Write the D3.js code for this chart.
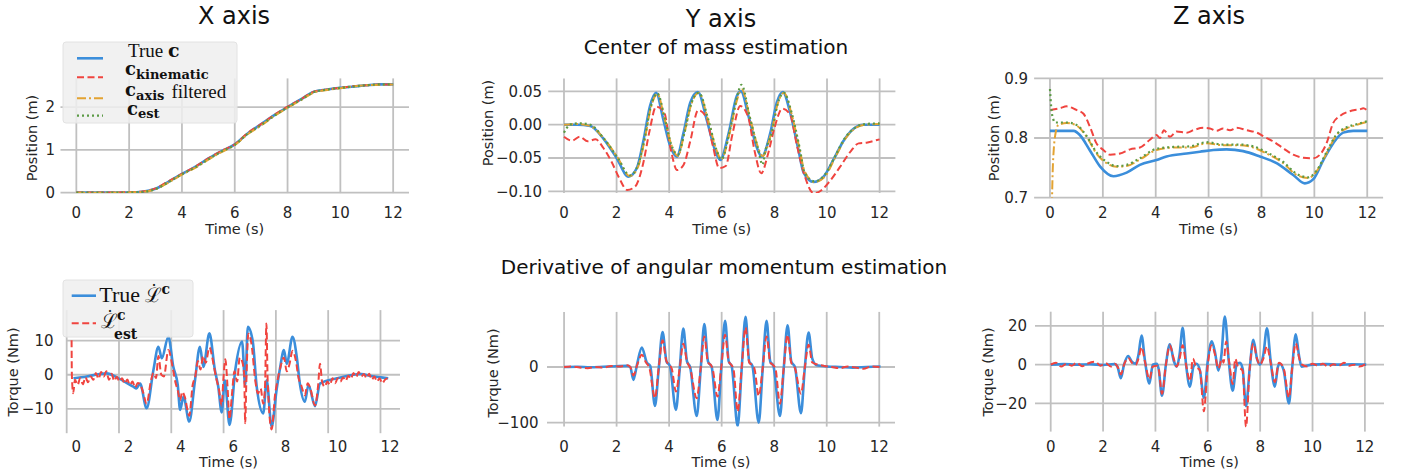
<!DOCTYPE html>
<html lang="en">
<head>
<meta charset="UTF-8">
<title>Center of mass and angular momentum estimation</title>
<script src="https://d3js.org/d3.v7.min.js"></script>
<style>
    body { margin: 0; background: #fff; }
    svg { display: block; font-family: 'DejaVu Sans', sans-serif; }
    .grid line { stroke: #c0c0c0; stroke-width: 1.8; }
    .tick-label { font-size: 15px; fill: #262626; }
    .axis-label { font-size: 14.5px; fill: #262626; }
    .title { font-size: 24px; fill: #111; }
    .subtitle { font-size: 20px; fill: #111; }
    .serif { font-family: 'Liberation Serif', serif; fill: #111; }
    .bold { font-family: 'DejaVu Serif', serif; font-weight: bold; }
    .script { font-family: 'DejaVu Serif', serif; }
</style>
</head>
<body>
<svg id="chart" width="1407" height="476"></svg>
<script>
// ---- values: [time (s), value] ----
const timeTicks = [0, 2, 4, 6, 8, 10, 12];

// Center of mass, X axis (m)
const comXTrue = [[0,0],[1,0],[2,0.005],[2.5,0.02],[3,0.09],[3.5,0.26],[4,0.44],[4.5,0.6],[5,0.8],[5.5,0.97],[6,1.13],[6.5,1.39],[7,1.6],[7.5,1.81],[8,2.0],[8.5,2.18],[9,2.36],[9.5,2.41],[10,2.45],[10.5,2.48],[11,2.51],[11.5,2.53],[12,2.53]];
const comXKin = [[0,0.005],[1,0.005],[2,0.01],[2.5,0.025],[3,0.1],[3.5,0.27],[4,0.44],[4.5,0.61],[5,0.8],[5.5,0.98],[6,1.13],[6.5,1.4],[7,1.6],[7.5,1.82],[8,2.01],[8.5,2.18],[9,2.36],[9.5,2.41],[10,2.45],[10.5,2.49],[11,2.51],[11.5,2.53],[12,2.53]];
const comXFilt = [[0,0],[1,0],[2,0.005],[2.5,0.015],[3,0.08],[3.5,0.24],[4,0.42],[4.5,0.58],[5,0.77],[5.5,0.95],[6,1.11],[6.5,1.37],[7,1.57],[7.5,1.79],[8,1.98],[8.5,2.16],[9,2.34],[9.5,2.4],[10,2.44],[10.5,2.48],[11,2.51],[11.5,2.52],[12,2.53]];
const comXEst = [[0,0],[1,0],[2,0.005],[2.5,0.018],[3,0.085],[3.5,0.25],[4,0.43],[4.5,0.59],[5,0.78],[5.5,0.96],[6,1.12],[6.5,1.38],[7,1.58],[7.5,1.8],[8,1.99],[8.5,2.17],[9,2.35],[9.5,2.41],[10,2.45],[10.5,2.48],[11,2.51],[11.5,2.53],[12,2.53]];

// Center of mass, Y axis (m)
const comYTrue = [[0,0],[0.5,0],[1.0,-0.002],[1.5,-0.021],[2.0,-0.05],[2.45,-0.078],[2.77,-0.065],[3.02,-0.024],[3.27,0.028],[3.5,0.048],[3.78,0.007],[4.03,-0.031],[4.29,-0.048],[4.54,-0.013],[4.8,0.033],[5.09,0.049],[5.43,0.007],[5.75,-0.039],[5.94,-0.053],[6.26,-0.013],[6.57,0.043],[6.73,0.05],[7.02,0.012],[7.33,-0.034],[7.52,-0.048],[7.84,-0.013],[8.09,0.033],[8.32,0.049],[8.6,0.018],[8.92,-0.039],[9.11,-0.072],[9.49,-0.086],[9.87,-0.078],[10.25,-0.052],[10.63,-0.024],[11.01,-0.006],[11.39,0],[12,0]];
const comYKin = [[0,-0.018],[0.3,-0.024],[0.6,-0.018],[0.9,-0.025],[1.2,-0.022],[1.5,-0.035],[1.8,-0.055],[2.1,-0.08],[2.4,-0.098],[2.7,-0.093],[3.0,-0.06],[3.25,-0.01],[3.5,0.027],[3.8,0.02],[4.05,-0.035],[4.3,-0.068],[4.55,-0.06],[4.8,-0.025],[5.1,0.022],[5.4,0.012],[5.65,-0.03],[5.9,-0.065],[6.15,-0.062],[6.4,-0.015],[6.7,0.028],[7.0,0.012],[7.25,-0.04],[7.5,-0.073],[7.75,-0.045],[8.0,-0.005],[8.3,0.024],[8.6,0.015],[8.85,-0.03],[9.1,-0.07],[9.5,-0.103],[9.8,-0.098],[10.1,-0.085],[10.5,-0.063],[10.9,-0.04],[11.2,-0.028],[11.5,-0.027],[11.8,-0.024],[12,-0.022]];
const comYFilt = [[0,0],[0.5,0.001],[1.0,-0.002],[1.5,-0.02],[2.05,-0.05],[2.5,-0.077],[2.82,-0.063],[3.07,-0.022],[3.3,0.025],[3.55,0.046],[3.83,0.008],[4.08,-0.03],[4.33,-0.047],[4.58,-0.012],[4.85,0.032],[5.13,0.048],[5.47,0.008],[5.8,-0.038],[5.98,-0.052],[6.3,-0.012],[6.6,0.04],[6.76,0.053],[7.06,0.012],[7.37,-0.033],[7.55,-0.047],[7.88,-0.012],[8.13,0.032],[8.36,0.048],[8.64,0.018],[8.96,-0.037],[9.15,-0.07],[9.53,-0.086],[9.92,-0.078],[10.3,-0.05],[10.68,-0.022],[11.05,-0.006],[11.45,0],[12,0.001]];
const comYEst = [[0,-0.012],[0.1,-0.005],[0.3,0.001],[0.6,0.002],[1.0,0],[1.5,-0.02],[2.05,-0.05],[2.5,-0.076],[2.82,-0.06],[3.07,-0.02],[3.3,0.027],[3.55,0.047],[3.83,0.01],[4.08,-0.03],[4.33,-0.045],[4.58,-0.012],[4.85,0.033],[5.13,0.048],[5.47,0.01],[5.8,-0.038],[5.98,-0.052],[6.3,-0.01],[6.6,0.045],[6.75,0.06],[7.06,0.012],[7.37,-0.035],[7.55,-0.06],[7.65,-0.04],[7.88,-0.015],[8.13,0.032],[8.36,0.048],[8.64,0.02],[8.96,-0.035],[9.15,-0.072],[9.53,-0.085],[9.92,-0.075],[10.3,-0.048],[10.68,-0.02],[11.05,-0.005],[11.45,0.001],[12,0.002]];

// Center of mass, Z axis (m)
const comZTrue = [[0,0.812],[0.9,0.812],[1.13,0.805],[1.5,0.78],[1.9,0.752],[2.4,0.736],[2.9,0.742],[3.4,0.755],[4.03,0.763],[4.41,0.769],[5.17,0.774],[5.67,0.777],[6.18,0.78],[6.68,0.781],[7.31,0.778],[7.94,0.769],[8.57,0.758],[9.2,0.738],[9.64,0.724],[9.96,0.731],[10.34,0.763],[10.71,0.791],[11.09,0.809],[11.47,0.812],[12,0.812]];
const comZKin = [[0.02,0.847],[0.38,0.85],[0.63,0.853],[1.0,0.847],[1.26,0.841],[1.51,0.819],[1.76,0.791],[2.02,0.78],[2.27,0.772],[2.65,0.774],[3.03,0.781],[3.4,0.784],[3.78,0.797],[4.03,0.805],[4.16,0.8],[4.31,0.813],[4.54,0.802],[4.79,0.811],[5.17,0.809],[5.42,0.813],[5.8,0.817],[6.05,0.816],[6.3,0.812],[6.55,0.816],[6.81,0.813],[7.06,0.817],[7.44,0.813],[7.82,0.809],[8.07,0.803],[8.45,0.794],[8.82,0.783],[9.2,0.772],[9.58,0.767],[9.96,0.766],[10.21,0.772],[10.46,0.791],[10.71,0.825],[10.97,0.837],[11.28,0.844],[11.53,0.847],[11.72,0.848],[11.85,0.85],[12,0.846]];
const comZFilt = [[0.04,0.6],[0.1,0.74],[0.15,0.785],[0.2,0.805],[0.32,0.822],[0.63,0.825],[1.0,0.821],[1.39,0.802],[1.76,0.774],[2.14,0.758],[2.52,0.752],[2.9,0.753],[3.4,0.764],[4.03,0.78],[4.66,0.784],[5.29,0.784],[5.92,0.791],[6.55,0.788],[7.19,0.788],[7.69,0.784],[8.19,0.774],[8.82,0.758],[9.33,0.738],[9.77,0.733],[10.08,0.744],[10.46,0.774],[10.84,0.805],[11.22,0.816],[11.6,0.822],[12,0.827]];
const comZEst = [[0,0.882],[0.05,0.85],[0.12,0.832],[0.2,0.826],[0.4,0.826],[0.63,0.826],[1.0,0.822],[1.39,0.803],[1.76,0.776],[2.14,0.76],[2.52,0.753],[2.9,0.755],[3.4,0.766],[4.03,0.782],[4.66,0.785],[5.29,0.786],[5.92,0.793],[6.55,0.789],[7.19,0.789],[7.69,0.786],[8.19,0.776],[8.82,0.76],[9.33,0.74],[9.77,0.734],[10.08,0.745],[10.46,0.776],[10.84,0.806],[11.22,0.818],[11.6,0.823],[12,0.828]];

// Derivative of angular momentum, X axis (Nm)
const dLXTrue = [[-0.11,-1.05],[0.4,-0.5],[0.9,0.2],[1.16,0.4],[1.6,-1.0],[2.18,-3.5],[2.3,-4.0],[2.44,-2.6],[2.69,-9.8],[2.95,1.4],[3.14,8.2],[3.27,4.8],[3.52,11.1],[3.71,2.3],[3.88,-3],[3.97,-10.3],[4.1,-6.4],[4.32,-13.7],[4.54,-1.6],[4.73,8.2],[4.86,2.3],[5.09,12.1],[5.3,1.4],[5.43,-3.5],[5.56,-11],[5.68,-1.6],[5.86,-14.7],[6.08,1.4],[6.34,9.7],[6.46,-3.0],[6.56,14.0],[6.75,9.7],[6.9,-3.5],[7.15,-11.3],[7.28,-1.6],[7.47,-15.2],[7.66,-4.4],[7.79,1.8],[7.94,7.2],[8.05,3.2],[8.27,11.1],[8.43,5.3],[8.55,-2.6],[8.74,-7.9],[8.88,-3.0],[9.13,-9.2],[9.32,-2.6],[9.97,-1.05],[10.9,0.2],[11.28,-0.4],[11.93,-1.05]];
const dLXEst = [[-0.18,10.1],[-0.17,0],[-0.12,-5.4],[-0.05,-1.5],[0.05,-3.0],[0.15,-1.0],[0.25,-2.8],[0.35,-0.8],[0.45,-2.2],[0.55,-0.5],[0.65,-1.5],[0.75,0.5],[0.85,-1.2],[0.95,0.8],[1.05,-0.5],[1.15,1.0],[1.25,-1.5],[1.35,0.3],[1.45,-1.8],[1.55,-0.6],[1.65,-2.0],[1.75,-1.0],[1.85,-2.6],[1.95,-1.4],[2.05,-3.0],[2.15,-2.0],[2.25,-3.8],[2.35,-2.4],[2.45,-3.0],[2.55,-5.0],[2.69,-8.5],[2.85,-2.0],[2.95,0.5],[3.05,-1.0],[3.14,5.5],[3.25,0.0],[3.35,-0.5],[3.52,7.2],[3.7,1.5],[3.8,-2.5],[3.88,-4.5],[3.97,-7.5],[4.05,-5.0],[4.15,-6.5],[4.32,-12.0],[4.45,-3.0],[4.55,-0.5],[4.65,4.0],[4.75,1.5],[4.85,5.5],[4.95,3.5],[5.09,8.0],[5.25,3.0],[5.35,-1.0],[5.45,-4.0],[5.56,-9.0],[5.62,-2.0],[5.7,4.5],[5.78,-3.0],[5.86,-13.0],[5.95,-6.0],[6.05,1.0],[6.15,-2.0],[6.25,5.0],[6.34,4.0],[6.42,0.0],[6.46,-14.2],[6.5,-3.0],[6.58,12.0],[6.7,9.0],[6.85,-2.0],[6.95,-5.5],[7.05,-4.0],[7.15,-8.5],[7.22,-3.0],[7.27,15.0],[7.32,-2.0],[7.47,-16.0],[7.6,-6.0],[7.7,-1.5],[7.8,2.0],[7.94,5.0],[8.05,1.0],[8.15,3.0],[8.27,7.0],[8.4,4.0],[8.5,-1.0],[8.6,-3.0],[8.74,-6.0],[8.85,-2.5],[8.95,-4.0],[9.13,-9.0],[9.25,-3.0],[9.32,3.2],[9.4,-2.0],[9.5,-3.5],[9.6,-2.0],[9.7,-3.0],[9.8,-1.0],[9.9,-2.5],[10.0,-1.0],[10.1,-2.0],[10.2,-0.8],[10.3,-1.8],[10.4,-0.3],[10.5,-1.2],[10.6,0.5],[10.7,-0.7],[10.8,0.8],[10.9,-0.5],[11.0,0.2],[11.1,-1.0],[11.2,0.3],[11.3,-1.5],[11.4,-0.5],[11.5,-2.0],[11.6,-1.0],[11.7,-2.5],[11.8,-1.5],[11.9,-1.0]];

// Derivative of angular momentum, Y axis (Nm)
const dLYTrue = [[0,0],[0.5,0.5],[1.0,-0.5],[1.5,0.5],[2.0,1.5],[2.4,2],[2.52,0],[2.64,-23],[2.78,5],[2.96,35],[3.15,8],[3.28,2],[3.46,-70],[3.6,-5],[3.75,63],[3.9,10],[4.03,2],[4.26,-77],[4.4,-5],[4.54,69],[4.68,10],[4.8,0],[5.05,-88],[5.2,-5],[5.34,77],[5.48,10],[5.62,0],[5.84,-95],[5.98,-5],[6.13,83],[6.27,10],[6.38,2],[6.61,-106],[6.76,-5],[6.91,90],[7.05,10],[7.17,2],[7.41,-100],[7.56,-5],[7.71,83],[7.85,10],[7.97,2],[8.22,-88],[8.36,-5],[8.51,75],[8.65,10],[8.79,0],[9.02,-83],[9.16,-5],[9.31,62],[9.45,15],[9.62,3],[10.0,1],[10.5,0],[11,-1],[11.5,0],[12.05,1]];
const dLYEst = [[0,0],[0.3,1],[0.6,-1],[0.9,-2],[1.2,0],[1.5,-1],[1.8,2],[2.1,1],[2.4,3],[2.52,0],[2.64,-15],[2.78,3],[2.96,22],[3.12,8],[3.25,-2],[3.46,-56],[3.6,-3],[3.75,48],[3.9,10],[4.03,3],[4.1,-3],[4.26,-44],[4.4,-3],[4.54,42],[4.68,10],[4.8,-2],[5.05,-56],[5.2,-3],[5.34,55],[5.48,8],[5.6,3],[5.65,-2],[5.84,-53],[5.98,-3],[6.13,58],[6.27,10],[6.38,3],[6.45,-3],[6.61,-80],[6.76,-3],[6.91,71],[7.05,8],[7.17,3],[7.25,-3],[7.41,-52],[7.56,-3],[7.71,55],[7.85,8],[7.97,3],[8.05,-3],[8.22,-66],[8.36,-3],[8.51,58],[8.65,8],[8.79,-2],[9.02,-48],[9.16,-3],[9.31,40],[9.45,8],[9.62,5],[9.9,2],[10.2,0],[10.5,-2],[10.8,1],[11.1,-1],[11.4,-3],[11.7,1],[12.05,0]];

// Derivative of angular momentum, Z axis (Nm)
const dLZTrue = [[0,0],[0.5,0.3],[1,0],[1.5,0.2],[2,-0.2],[2.45,0.3],[2.55,-1],[2.68,-7],[2.8,0],[2.96,4.5],[3.1,1.5],[3.25,0.5],[3.35,5],[3.47,15],[3.6,2],[3.77,-9.7],[3.9,0],[4.05,0.5],[4.12,-2],[4.25,-16],[4.4,0],[4.55,10.5],[4.7,2],[4.81,-1],[4.92,5],[5.04,19],[5.17,0],[5.32,-11.4],[5.45,-1],[5.57,0.5],[5.7,-3],[5.85,-17],[6.0,2],[6.15,12],[6.28,6],[6.4,-3],[6.52,5],[6.65,24.8],[6.8,2],[6.95,-13.4],[7.1,0],[7.23,1],[7.33,-2],[7.46,-21.4],[7.6,-2],[7.74,12.8],[7.88,3],[7.99,0],[8.12,5],[8.26,18.8],[8.4,2],[8.56,-11.4],[8.68,-1],[8.75,0.5],[8.9,-3],[9.1,-20],[9.22,-2],[9.36,15.7],[9.48,5],[9.58,-1],[10,0],[10.5,0.3],[11,0],[11.5,0.2],[12.05,0]];
const dLZEst = [[0,0],[0.2,1],[0.4,-1],[0.6,0.5],[0.8,-0.5],[1.0,1],[1.2,-0.8],[1.4,0.5],[1.7,1.5],[1.9,-0.5],[2.1,0.8],[2.3,-1],[2.45,0.5],[2.55,-1],[2.68,-5],[2.8,0],[2.96,3.5],[3.1,1],[3.25,0],[3.35,3],[3.47,9],[3.6,1.5],[3.77,-7.5],[3.9,-1],[4.05,-0.5],[4.12,-2],[4.25,-15],[4.4,0],[4.55,10],[4.7,3],[4.81,-1],[4.92,3],[5.04,10],[5.17,0],[5.32,-8.5],[5.43,3],[5.55,-1],[5.7,-3],[5.85,-24],[6.0,0],[6.15,10],[6.28,5],[6.4,-2],[6.55,3],[6.6,1],[6.7,12],[6.82,1],[6.95,-10],[7.05,3],[7.15,-1],[7.33,-3],[7.46,-32],[7.6,-2],[7.74,11],[7.88,3],[7.99,0],[8.12,3],[8.26,9.5],[8.4,1],[8.56,-9],[8.72,1],[8.9,-2],[9.1,-17],[9.22,-2],[9.36,11],[9.5,3],[9.6,0],[9.8,-1],[10.0,0.5],[10.2,-0.5],[10.4,0.5],[10.6,-1],[10.8,0.2],[11.0,-0.5],[11.2,1],[11.4,-0.5],[11.6,0],[11.8,-1],[12.05,0.5]];

// tick values per panel
const posXTicks = [0, 1, 2];
const posYTicks = [-0.10, -0.05, 0.00, 0.05];
const posZTicks = [0.7, 0.8, 0.9];
const torqueXTicks = [-10, 0, 10];
const torqueYTicks = [-100, 0];
const torqueZTicks = [-20, 0, 20];

// ---- styles ----
const BLUE = "#3b8edb", RED = "#f0443f", ORANGE = "#e3a332", GREEN = "#5b9a45";
const trueStyle = { color: BLUE, width: 2.6, dash: null };
const kinStyle = { color: RED, width: 2, dash: "7,3.5" };
const filtStyle = { color: ORANGE, width: 2, dash: "9,3,2,3" };
const estStyle = { color: GREEN, width: 2.2, dash: "2,3" };

const panels = [
    { xd: [-0.6, 12.6], xr: [60.5, 409], yd: [-0.01, 2.67], yr: [193.1, 78.4], yTicks: posXTicks, fmt: d3.format("d"),
      ylab: "Position (m)", ylabPos: [32, 138], tickRight: 55, row: 0,
      series: [[comXTrue, trueStyle], [comXKin, kinStyle], [comXFilt, filtStyle], [comXEst, estStyle]] },
    { xd: [-0.6, 12.6], xr: [548.2, 895.4], yd: [-0.1025, 0.0695], yr: [193, 78.4], yTicks: posYTicks, fmt: d3.format(".2f"),
      ylab: "Position (m)", ylabPos: [488, 123], tickRight: 542, row: 0,
      series: [[comYTrue, trueStyle], [comYKin, kinStyle], [comYFilt, filtStyle], [comYEst, estStyle]] },
    { xd: [-0.6, 12.6], xr: [1034.1, 1383.1], yd: [0.7, 0.9], yr: [197.7, 78.3], yTicks: posZTicks, fmt: d3.format(".1f"),
      ylab: "Position (m)", ylabPos: [994, 138], tickRight: 1028, row: 0,
      series: [[comZTrue, trueStyle], [comZKin, kinStyle], [comZFilt, filtStyle], [comZEst, estStyle]] },
    { xd: [-0.367, 12.38], xr: [66.7, 400], yd: [-17.1, 18.9], yr: [433.2, 310.1], yTicks: torqueXTicks, fmt: d3.format("d"),
      ylab: "Torque (Nm)", ylabPos: [12.5, 372], tickRight: 53.5, row: 1, gridShift: -9.6,
      series: [[dLXTrue, trueStyle], [dLXEst, kinStyle]] },
    { xd: [-0.65, 12.6], xr: [547, 895], yd: [-107, 99], yr: [426.6, 311.9], yTicks: torqueYTicks, fmt: d3.format("d"),
      ylab: "Torque (Nm)", ylabPos: [492.5, 373], tickRight: 538.5, row: 1,
      series: [[dLYTrue, trueStyle], [dLYEst, kinStyle]] },
    { xd: [-0.6, 12.73], xr: [1035, 1384], yd: [-34.5, 27.3], yr: [431.6, 311.7], yTicks: torqueZTicks, fmt: d3.format("d"),
      ylab: "Torque (Nm)", ylabPos: [987.5, 372], tickRight: 1027, row: 1,
      series: [[dLZTrue, trueStyle], [dLZEst, kinStyle]] }
];

const rowTickBase = [218, 451.5];
const rowTimeBase = [234, 467];

const svg = d3.select("#chart");
const defs = svg.append("defs");

panels.forEach((p, i) => {
    const x = d3.scaleLinear().domain(p.xd).range(p.xr);
    const y = d3.scaleLinear().domain(p.yd).range(p.yr);
    const shift = p.gridShift || 0;
    const [left, right] = p.xr;
    const [bottom, top] = p.yr;
    const g = svg.append("g");

    // grid
    const grid = g.append("g").attr("class", "grid");
    grid.selectAll(".v").data(timeTicks).join("line")
        .attr("x1", d => x(d) + shift).attr("x2", d => x(d) + shift)
        .attr("y1", top).attr("y2", bottom);
    grid.selectAll(".h").data(p.yTicks).join("line")
        .attr("x1", left).attr("x2", right)
        .attr("y1", d => y(d)).attr("y2", d => y(d));

    // tick labels
    g.selectAll(".xt").data(timeTicks).join("text")
        .attr("class", "tick-label")
        .attr("x", d => x(d)).attr("y", rowTickBase[p.row])
        .attr("text-anchor", "middle")
        .text(d => d);
    g.selectAll(".yt").data(p.yTicks).join("text")
        .attr("class", "tick-label")
        .attr("x", p.tickRight).attr("y", d => y(d))
        .attr("dy", "0.36em")
        .attr("text-anchor", "end")
        .text(d => p.fmt(d));

    // axis labels
    g.append("text")
        .attr("class", "axis-label")
        .attr("x", (left + right) / 2 + shift / 2).attr("y", rowTimeBase[p.row])
        .attr("text-anchor", "middle")
        .text("Time (s)");
    g.append("text")
        .attr("class", "axis-label")
        .attr("transform", `translate(${p.ylabPos[0]},${p.ylabPos[1]}) rotate(-90)`)
        .attr("dy", "0.36em")
        .attr("text-anchor", "middle")
        .text(p.ylab);

    // data lines, true signal first so the estimates sit on top
    defs.append("clipPath").attr("id", "clip" + i)
        .append("rect").attr("x", left).attr("y", top)
        .attr("width", right - left).attr("height", bottom - top);

    const line = d3.line().x(d => x(d[0])).y(d => y(d[1])).curve(d3.curveMonotoneX);
    const lines = g.append("g").attr("clip-path", `url(#clip${i})`);
    p.series.forEach(([data, st]) => {
        lines.append("path")
            .attr("d", line(data))
            .attr("fill", "none")
            .attr("stroke", st.color)
            .attr("stroke-width", st.width)
            .attr("stroke-dasharray", st.dash)
            .attr("stroke-linejoin", "round");
    });
});

// titles
const titles = [["X axis", 234, 23.5], ["Y axis", 721, 26.5], ["Z axis", 1209, 23.5]];
svg.selectAll(".title").data(titles).join("text")
    .attr("class", "title")
    .attr("x", d => d[1]).attr("y", d => d[2])
    .attr("text-anchor", "middle")
    .text(d => d[0]);
svg.append("text").attr("class", "subtitle")
    .attr("x", 716).attr("y", 53.5).attr("text-anchor", "middle")
    .text("Center of mass estimation");
svg.append("text").attr("class", "subtitle")
    .attr("x", 724).attr("y", 274).attr("text-anchor", "middle")
    .text("Derivative of angular momentum estimation");

// ---- legend: center of mass (top-left) ----
const leg1 = svg.append("g");
leg1.append("rect").attr("x", 63).attr("y", 42).attr("width", 174).attr("height", 81).attr("rx", 3)
    .attr("fill", "#eeeeee").attr("fill-opacity", 0.85).attr("stroke", "#e2e2e2");
const leg1Rows = [[trueStyle, 58.3], [kinStyle, 77.3], [filtStyle, 98.3], [estStyle, 115.7]];
leg1.selectAll("line").data(leg1Rows).join("line")
    .attr("x1", 77).attr("x2", 103)
    .attr("y1", d => d[1]).attr("y2", d => d[1])
    .attr("stroke", d => d[0].color)
    .attr("stroke-width", d => d[0].width)
    .attr("stroke-dasharray", d => d[0].dash);

const t1 = leg1.append("text").attr("x", 128).attr("y", 56.7).attr("class", "serif").style("font-size", "19px");
t1.append("tspan").text("True ");
t1.append("tspan").attr("class", "bold").text("c");

const t2 = leg1.append("text").attr("x", 125).attr("y", 74.5).attr("class", "serif bold").style("font-size", "18px");
t2.append("tspan").text("c");
t2.append("tspan").attr("dy", 4).style("font-size", "13px").text("kinematic");

const t3 = leg1.append("text").attr("x", 125).attr("y", 96).attr("class", "serif").style("font-size", "18px");
t3.append("tspan").attr("class", "bold").text("c");
t3.append("tspan").attr("class", "bold").attr("dy", 3.5).style("font-size", "13px").text("axis");
t3.append("tspan").attr("dy", -2).attr("dx", 7).style("font-size", "19px").text("filtered");

const t4 = leg1.append("text").attr("x", 127).attr("y", 114.5).attr("class", "serif bold").style("font-size", "18px");
t4.append("tspan").text("c");
t4.append("tspan").attr("dy", 3).style("font-size", "13px").text("est");

// ---- legend: angular momentum (bottom-left) ----
const leg2 = svg.append("g");
leg2.append("rect").attr("x", 63).attr("y", 280).attr("width", 130).attr("height", 57).attr("rx", 3)
    .attr("fill", "#eeeeee").attr("fill-opacity", 0.85).attr("stroke", "#e2e2e2");
const leg2Rows = [[trueStyle, 295.7], [kinStyle, 323.3]];
leg2.selectAll("line").data(leg2Rows).join("line")
    .attr("x1", 71.7).attr("x2", 96)
    .attr("y1", d => d[1]).attr("y2", d => d[1])
    .attr("stroke", d => d[0].color)
    .attr("stroke-width", d => d[0].width)
    .attr("stroke-dasharray", d => d[0].dash);

// one text per entry; script L, its dot, super- and subscripts as placed tspans
const u1 = leg2.append("text").attr("class", "serif");
u1.append("tspan").attr("x", 99.3).attr("y", 301.7).style("font-size", "22px").text("True");
u1.append("tspan").attr("class", "script").attr("x", 145).attr("y", 301.7).style("font-size", "20px").text("\u2112");
u1.append("tspan").attr("class", "script").attr("x", 149.5).attr("y", 297.5).style("font-size", "18px").text("\u02D9");
u1.append("tspan").attr("class", "bold").attr("x", 161.5).attr("y", 293.5).style("font-size", "14px").text("c");

const u2 = leg2.append("text").attr("class", "serif");
u2.append("tspan").attr("class", "script").attr("x", 100.7).attr("y", 328.3).style("font-size", "20px").text("\u2112");
u2.append("tspan").attr("class", "script").attr("x", 105.5).attr("y", 324).style("font-size", "18px").text("\u02D9");
u2.append("tspan").attr("class", "bold").attr("x", 117).attr("y", 320).style("font-size", "14px").text("c");
u2.append("tspan").attr("class", "bold").attr("x", 114).attr("y", 339).style("font-size", "14px").text("est");
</script>
</body>
</html>
